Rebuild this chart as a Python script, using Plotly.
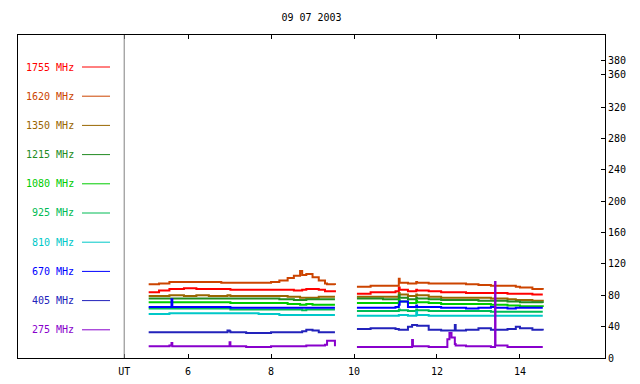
import plotly.graph_objects as go

# ---------------- data ----------------
channels = ["1755 MHz", "1620 MHz", "1350 MHz", "1215 MHz", "1080 MHz",
            "925 MHz", "810 MHz", "670 MHz", "405 MHz", "275 MHz"]
colors = ["#ff0000", "#cc4400", "#996600", "#228b22", "#00cc00",
          "#00bb55", "#00c8c8", "#0000ff", "#2222bb", "#8800cc"]

# time (UT hours), first and second observing segments
t1 = [5.05, 5.3, 5.55, 5.6, 5.62, 5.9, 6.2, 6.5, 6.8, 6.95, 7.0, 7.02, 7.4,
      7.7, 8.0, 8.2, 8.4, 8.55, 8.7, 8.75, 8.85, 9.0, 9.15, 9.3, 9.35, 9.54]
t2 = [10.07, 10.4, 10.7, 11.0, 11.08, 11.1, 11.3, 11.4, 11.42, 11.5, 11.52,
      11.8, 12.1, 12.25, 12.3, 12.35, 12.43, 12.45, 12.7, 13.0, 13.3, 13.4,
      13.41, 13.7, 13.9, 14.0, 14.3, 14.55]

s1_1755 = [84, 86, 88, 88, 88, 89, 88, 88, 88, 88, 88, 87, 87, 87, 87, 87, 87, 86, 86, 87, 88, 88, 87, 85, 85, 84]
s1_1620 = [94, 95, 97, 97, 97, 97, 97, 97, 96, 96, 96, 96, 96, 96, 97, 99, 102, 105, 111, 106, 107, 103, 99, 95, 94, 93]
s1_1350 = [79, 79, 80, 80, 80, 79, 80, 79, 79, 80, 80, 79, 79, 79, 79, 79, 78, 78, 77, 77, 77, 77, 78, 78, 78, 78]
s1_1215 = [76, 76, 76, 76, 76, 76, 76, 76, 76, 76, 76, 76, 76, 76, 76, 75, 75, 74, 74, 74, 75, 75, 75, 75, 75, 75]
s1_1080 = [71, 71, 71, 71, 71, 71, 71, 71, 71, 71, 71, 70, 70, 70, 70, 70, 69, 69, 68, 68, 69, 68, 68, 68, 68, 68]
s1_925 = [63, 63, 63, 63, 63, 63, 63, 63, 63, 63, 63, 62, 62, 62, 62, 62, 62, 62, 62, 61, 62, 62, 62, 62, 62, 62]
s1_810 = [56, 56, 57, 57, 57, 57, 57, 57, 57, 57, 57, 57, 57, 56, 56, 55, 55, 55, 55, 55, 55, 55, 55, 55, 55, 55]
s1_670 = [65, 65, 65, 75, 65, 65, 65, 65, 65, 65, 65, 64, 64, 64, 64, 64, 64, 64, 64, 64, 64, 64, 64, 64, 64, 64]
s1_405 = [33, 33, 33, 33, 33, 33, 33, 33, 33, 35, 34, 33, 32, 32, 33, 33, 33, 33, 33, 34, 36, 35, 33, 33, 33, 33]
s1_275 = [15, 15, 16, 19, 15, 15, 15, 15, 15, 15, 20, 15, 14, 14, 15, 15, 15, 15, 15, 15, 16, 16, 16, 17, 22, 15]

s2_1755 = [82, 84, 84, 85, 90, 87, 85, 85, 85, 87, 86, 85, 84, 84, 84, 84, 84, 84, 83, 83, 83, 83, 83, 82, 82, 82, 81, 81]
s2_1620 = [91, 92, 92, 92, 101, 96, 95, 95, 95, 97, 96, 95, 95, 95, 95, 95, 95, 95, 94, 93, 92, 92, 92, 92, 91, 90, 88, 87]
s2_1350 = [78, 78, 78, 78, 83, 81, 79, 79, 79, 81, 80, 78, 77, 77, 77, 77, 77, 77, 77, 77, 76, 76, 76, 75, 74, 74, 73, 72]
s2_1215 = [76, 76, 75, 75, 80, 77, 75, 75, 75, 77, 76, 75, 74, 74, 74, 74, 74, 74, 74, 73, 73, 73, 73, 72, 72, 71, 71, 70]
s2_1080 = [70, 70, 70, 70, 74, 72, 70, 70, 70, 73, 71, 70, 69, 69, 69, 69, 69, 69, 69, 69, 68, 68, 68, 67, 67, 66, 66, 65]
s2_925 = [60, 60, 60, 60, 62, 61, 60, 60, 60, 62, 61, 60, 60, 60, 60, 60, 60, 60, 60, 60, 59, 59, 59, 59, 59, 59, 59, 59]
s2_810 = [54, 54, 54, 54, 55, 55, 54, 54, 54, 59, 55, 54, 54, 54, 54, 54, 54, 54, 54, 54, 54, 54, 54, 54, 54, 54, 54, 54]
s2_670 = [64, 64, 64, 65, 68, 72, 65, 65, 65, 67, 65, 65, 64, 64, 64, 64, 64, 64, 63, 64, 65, 64, 64, 63, 64, 64, 64, 64]
s2_405 = [37, 38, 38, 37, 36, 36, 40, 42, 42, 42, 41, 36, 35, 35, 35, 35, 42, 35, 36, 38, 36, 36, 36, 37, 40, 38, 36, 35]
s2_275 = [14, 14, 14, 14, 14, 14, 14, 23, 15, 15, 15, 14, 14, 24, 32, 26, 18, 16, 15, 15, 14, 97, 16, 14, 14, 14, 14, 14]

seg1 = [s1_1755, s1_1620, s1_1350, s1_1215, s1_1080, s1_925, s1_810, s1_670, s1_405, s1_275]
seg2 = [s2_1755, s2_1620, s2_1350, s2_1215, s2_1080, s2_925, s2_810, s2_670, s2_405, s2_275]

x_tickvals = [4.46, 6, 8, 10, 12, 14]
x_ticktext = ["UT", "6", "8", "10", "12", "14"]
y_tickvals = [0, 40, 80, 120, 160, 200, 240, 280, 320, 362, 380]
y_ticktext = ["0", "40", "80", "120", "160", "200", "240", "280", "320", "360", "380"]
title_text = "09 07 2003"

# ---------------- figure ----------------
FONT = "DejaVu Sans Mono"
fig = go.Figure()
for name, col, a, b in zip(channels, colors, seg1, seg2):
    fig.add_trace(go.Scatter(
        x=t1 + [None] + t2, y=a + [None] + b, mode="lines", name=name,
        line=dict(color=col, width=2, shape="hv"), showlegend=False,
        connectgaps=False))

# page has an 8 px body margin; screen-pixel geometry of the plot area
OFF = 8
W, H = 640 - 2 * OFF, 384 - 2 * OFF
L, R, T, B = 18 - OFF, 605 - OFF, 35 - OFF, 358 - OFF

def px_x(px):
    return (px - 18) / (605 - 18)

def px_y(py):
    return (358 - py) / (358 - 35)

shapes = [dict(type="line", xref="x", yref="paper", x0=4.46, x1=4.46, y0=0, y1=1,
               line=dict(color="#808080", width=1))]
annotations = []
leg_top, leg_step = 67, 29.2
for i, (name, col) in enumerate(zip(channels, colors)):
    yy = px_y(leg_top + i * leg_step)
    annotations.append(dict(xref="paper", yref="paper", x=px_x(76), y=yy,
                            xanchor="right", yanchor="middle", text=name,
                            showarrow=False, font=dict(family=FONT, size=10, color=col)))
    shapes.append(dict(type="line", xref="paper", yref="paper",
                       x0=px_x(82), x1=px_x(110), y0=yy, y1=yy,
                       line=dict(color=col, width=1)))

fig.update_layout(
    width=W, height=H,
    margin=dict(l=L, r=W - R, t=T, b=H - B, autoexpand=False),
    plot_bgcolor="white", paper_bgcolor="white",
    font=dict(family=FONT, size=10, color="black"),
    title=dict(text=title_text, x=0.5, xref="paper", y=1 - (17 - OFF) / H, yref="container",
               xanchor="center", yanchor="middle", font=dict(family=FONT, size=10, color="black")),
    xaxis=dict(range=[1.9, 16.05], tickvals=x_tickvals, ticktext=x_ticktext,
               ticks="inside", ticklen=4, tickcolor="black", showline=True,
               linecolor="black", linewidth=1, mirror="ticks", showgrid=False,
               zeroline=False, automargin=False, ticklabelstandoff=4,
               tickfont=dict(family=FONT, size=10, color="black")),
    yaxis=dict(range=[0, 412], side="right", tickvals=y_tickvals, ticktext=y_ticktext,
               ticks="inside", ticklen=4, tickcolor="black", showline=True,
               linecolor="black", linewidth=1, mirror=True, showgrid=False,
               zeroline=False, automargin=False,
               tickfont=dict(family=FONT, size=10, color="black")),
    shapes=shapes, annotations=annotations,
)

fig.write_html("out.html")
